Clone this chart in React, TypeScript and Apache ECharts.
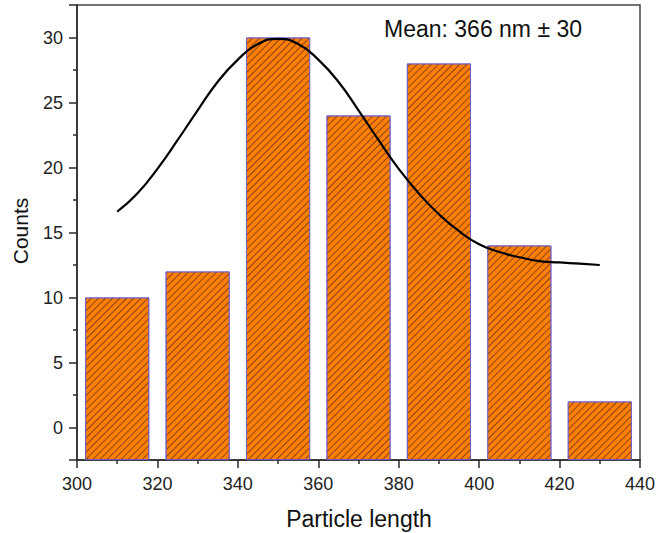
import React, { useEffect, useRef } from "react";
import * as echarts from "echarts";

// Histogram bins (centres, nm) and counts
const binCentres = [310, 330, 350, 370, 390, 410, 430];
const counts = [10, 12, 30, 24, 28, 14, 2];

// Fitted curve
const curveX = [310, 315, 320, 325, 330, 335, 340, 345, 350, 355, 360, 365, 370, 375, 380, 385, 390, 395, 400, 405, 410, 415, 420, 425, 430];
const curveY = [16.6, 18.0, 19.9, 22.1, 24.4, 26.6, 28.3, 29.5, 29.9, 29.5, 28.3, 26.6, 24.4, 22.1, 19.9, 18.0, 16.4, 15.1, 14.1, 13.5, 13.1, 12.8, 12.7, 12.6, 12.5];

const xTicks = [300, 320, 340, 360, 380, 400, 420, 440];
const yTicks = [0, 5, 10, 15, 20, 25, 30];

const annotation = "Mean: 366 nm ± 30";
const xTitle = "Particle length";
const yTitle = "Counts";

const FONT = "Liberation Sans, Arial, Helvetica, sans-serif";

export default function App() {
  const ref = useRef<HTMLDivElement>(null);
  useEffect(() => {
    if (!ref.current) return;
    const chart = echarts.init(ref.current, undefined, { renderer: "svg" });
    const axisColor = "#2a2a2a";
    chart.setOption({
      animation: false,
      backgroundColor: "#ffffff",
      textStyle: { fontFamily: FONT },
      grid: {
        left: 77,
        right: 26,
        top: 5,
        bottom: 73,
        show: true,
        borderColor: "#444",
        borderWidth: 1.5,
        backgroundColor: "transparent",
      },
      xAxis: {
        type: "value",
        min: xTicks[0],
        max: xTicks[xTicks.length - 1],
        interval: 20,
        axisLine: { show: true, onZero: false, lineStyle: { color: axisColor, width: 1.5 } },
        axisTick: { show: true, inside: false, length: 8, lineStyle: { color: axisColor, width: 1.5 } },
        minorTick: { show: true, splitNumber: 2, length: 4, lineStyle: { color: axisColor, width: 1.5 } },
        splitLine: { show: false },
        axisLabel: { fontSize: 18, color: "#222", margin: 15, fontFamily: FONT },
      },
      yAxis: {
        type: "value",
        min: -2.5,
        max: 32.5,
        splitNumber: 7,
        startValue: -2.5,
        axisLine: { show: true, onZero: false, lineStyle: { color: axisColor, width: 1.5 } },
        axisTick: { show: true, inside: false, length: 8, lineStyle: { color: axisColor, width: 1.5 } },
        minorTick: { show: true, splitNumber: 2, length: 4, lineStyle: { color: axisColor, width: 1.5 } },
        splitLine: { show: false },
        axisLabel: {
          fontSize: 18,
          color: "#222",
          margin: 14,
          fontFamily: FONT,
          showMinLabel: false,
          showMaxLabel: false,
          formatter: (v: number) => (yTicks.indexOf(v) >= 0 ? String(v) : ""),
        },
      },
      series: [
        {
          type: "bar",
          data: binCentres.map((c, i) => [c, counts[i]]),
          barWidth: 64,
          itemStyle: {
            color: "#ff8000",
            borderColor: "#6a5acd",
            borderWidth: 0.8,
            decal: {
              symbol: "rect",
              symbolSize: 1,
              dashArrayX: [1, 0],
              dashArrayY: [1, 3.4],
              rotation: -Math.PI / 4,
              color: "rgba(100,45,40,0.75)",
            },
          },
          z: 2,
        },
        {
          type: "line",
          data: curveX.map((x, i) => [x, curveY[i]]),
          smooth: true,
          showSymbol: false,
          symbol: "none",
          lineStyle: { color: "#000", width: 2.2 },
          z: 3,
        },
      ],
      graphic: [
        {
          type: "text",
          left: 384,
          top: 17,
          style: { text: annotation, fontSize: 23, fontFamily: FONT, fill: "#111" },
          z: 10,
        },
        {
          type: "text",
          x: 359,
          y: 519,
          style: { text: xTitle, fontSize: 23, fontFamily: FONT, fill: "#111", align: "center", verticalAlign: "middle" },
        },
        {
          type: "text",
          x: 20,
          y: 231,
          rotation: Math.PI / 2,
          style: { text: yTitle, fontSize: 21, fontFamily: FONT, fill: "#111", align: "center", verticalAlign: "middle" },
        },
      ],
    });
    return () => chart.dispose();
  }, []);
  return <div ref={ref} style={{ position: "fixed", left: 0, top: 0, width: 666, height: 533 }} />;
}
